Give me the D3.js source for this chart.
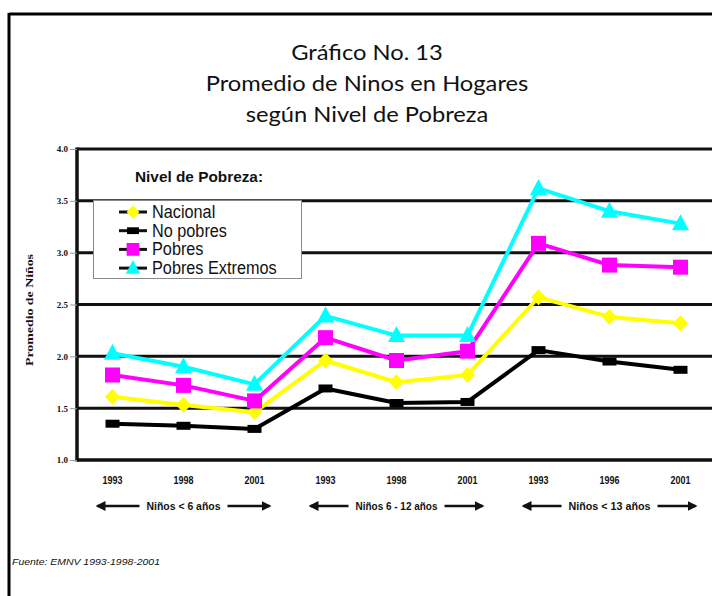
<!DOCTYPE html>
<html><head><meta charset="utf-8">
<script src="https://cdn.jsdelivr.net/npm/d3@7"></script>
<style>
html,body{margin:0;padding:0;background:#fff;overflow:hidden}
svg{display:block}
</style></head>
<body><svg id="c" width="712" height="596"></svg>
<script>
const categories = ["1993","1998","2001","1993","1998","2001","1993","1996","2001"];
const groups = ["Niños < 6 años","Niños 6 - 12 años","Niños < 13 años"];
const seriesNames = ["Nacional","No pobres","Pobres","Pobres Extremos"];
const nacional = [1.61,1.53,1.46,1.96,1.75,1.82,2.57,2.38,2.32];
const noPobres = [1.35,1.33,1.30,1.69,1.55,1.56,2.06,1.95,1.87];
const pobres = [1.82,1.72,1.57,2.18,1.96,2.05,3.09,2.88,2.86];
const extremos = [2.03,1.90,1.73,2.39,2.20,2.20,3.62,3.40,3.28];
const yTicks = [1.0,1.5,2.0,2.5,3.0,3.5,4.0];
const titleLines = ["Gráfico No. 13","Promedio de Ninos en Hogares","según Nivel de Pobreza"];

const svg = d3.select("#c");
// page frame
svg.append("line").attr("x1",9).attr("x2",9).attr("y1",13).attr("y2",596).attr("stroke","#000").attr("stroke-width",3);
svg.append("line").attr("x1",9).attr("x2",712).attr("y1",14).attr("y2",14).attr("stroke","#000").attr("stroke-width",3);

// title
svg.append("g").attr("transform","translate(367,0) scale(1.13,1)")
  .selectAll("text").data(titleLines).join("text")
  .attr("x",0).attr("y",(d,i)=>60+i*31).attr("text-anchor","middle")
  .attr("font-family","Lato, 'Open Sans', sans-serif").attr("font-size",21).attr("fill","#111")
  .text(d=>d);

const pLeft=77, pTop=149, pBottom=460, pRight=716;
const x = d3.scaleBand().domain(d3.range(categories.length)).range([pLeft,pRight]);
const y = d3.scaleLinear().domain([1,4]).range([pBottom,pTop]);
const cx = i => x(i)+x.bandwidth()/2;

// gridlines
svg.append("g").selectAll("line").data(yTicks).join("line")
  .attr("x1",pLeft).attr("x2",pRight).attr("y1",d=>y(d)).attr("y2",d=>y(d))
  .attr("stroke","#111").attr("stroke-width",d=>d===1?3.5:3);
svg.append("line").attr("x1",pLeft).attr("x2",pLeft).attr("y1",pTop-1.5).attr("y2",pBottom+1.5).attr("stroke","#111").attr("stroke-width",3.5);

// y axis tick labels
const ya = svg.append("g").attr("transform",`translate(${pLeft},0)`)
  .call(d3.axisLeft(y).tickValues(yTicks).tickFormat(d3.format(".1f")).tickSize(7).tickPadding(2));
ya.select(".domain").remove();
ya.selectAll("line").attr("stroke","#999").attr("stroke-width",1);
ya.selectAll("text").attr("font-family","'Liberation Serif', serif").attr("font-weight","bold").attr("font-size",9).attr("fill","#111");

svg.append("text").attr("transform","translate(33,310) rotate(-90)").attr("text-anchor","middle")
  .attr("font-family","'Liberation Serif', serif").attr("font-weight","bold").attr("font-size",9.5).attr("fill","#111")
  .attr("textLength",112).attr("lengthAdjust","spacingAndGlyphs")
  .text("Promedio de Niños");

// x labels
svg.append("g").selectAll("text").data(categories).join("text")
  .attr("x",(d,i)=>cx(i)).attr("y",484).attr("text-anchor","middle")
  .attr("font-family","'Liberation Sans', sans-serif").attr("font-weight","bold").attr("font-size",11).attr("fill","#111")
  .attr("textLength",20).attr("lengthAdjust","spacingAndGlyphs")
  .text(d=>d);

// group labels with arrows
const defs = svg.append("defs");
defs.append("marker").attr("id","ah").attr("viewBox","0 0 10 10").attr("refX",8).attr("refY",5)
  .attr("markerWidth",4).attr("markerHeight",4).attr("orient","auto-start-reverse")
  .append("path").attr("d","M0,0L10,5L0,10z").attr("fill","#111");
const gl = svg.append("g").selectAll("g").data(groups).join("g")
  .attr("transform",(d,i)=>`translate(${cx(i*3+1)},506)`);
gl.append("text").attr("text-anchor","middle").attr("y",4)
  .attr("font-family","'Liberation Sans', sans-serif").attr("font-weight","bold").attr("font-size",11).attr("fill","#111")
  .attr("textLength",(d,i)=>i===0?74:82).attr("lengthAdjust","spacingAndGlyphs")
  .text(d=>d);
gl.append("line").attr("x1",(d,i)=>i===0?-44:-48).attr("x2",-86).attr("y1",0).attr("y2",0)
  .attr("stroke","#111").attr("stroke-width",2.5).attr("marker-end","url(#ah)");
gl.append("line").attr("x1",(d,i)=>i===0?44:48).attr("x2",86).attr("y1",0).attr("y2",0)
  .attr("stroke","#111").attr("stroke-width",2.5).attr("marker-end","url(#ah)");

// series
const series = [
  {name:seriesNames[0], values:nacional, color:"#ffff00", shape:"diamond"},
  {name:seriesNames[1], values:noPobres, color:"#000000", shape:"dash"},
  {name:seriesNames[2], values:pobres, color:"#ff00ff", shape:"square"},
  {name:seriesNames[3], values:extremos, color:"#00ffff", shape:"triangle"}
];
function markerPath(shape){
  if(shape==="diamond") return "M0,-8L7.5,0L0,8L-7.5,0Z";
  if(shape==="square") return "M-7.5,-7.5H7.5V7.5H-7.5Z";
  if(shape==="triangle") return "M0,-9.5L8.5,6.5H-8.5Z";
  return "M-7,-4H7V4H-7Z";
}
const line = d3.line().x((d,i)=>cx(i)).y(d=>y(d));
const sg = svg.append("g").selectAll("g").data(series).join("g");
sg.append("path").attr("d",d=>line(d.values)).attr("fill","none")
  .attr("stroke",d=>d.color).attr("stroke-width",4).attr("stroke-linejoin","round");
sg.each(function(s){
  d3.select(this).selectAll("path.m").data(s.values).join("path").attr("class","m")
    .attr("transform",(d,i)=>`translate(${cx(i)},${y(d)})`)
    .attr("d",markerPath(s.shape)).attr("fill",s.color);
});

// legend
svg.append("text").attr("x",135).attr("y",182)
  .attr("font-family","'Liberation Sans', sans-serif").attr("font-weight","bold").attr("font-size",14).attr("fill","#111")
  .attr("textLength",128).attr("lengthAdjust","spacingAndGlyphs")
  .text("Nivel de Pobreza:");
svg.append("rect").attr("x",93.5).attr("y",200.5).attr("width",208).attr("height",78)
  .attr("fill","#fff").attr("stroke","#888").attr("stroke-width",1);
const lg = svg.append("g").selectAll("g").data(series).join("g")
  .attr("transform",(d,i)=>`translate(133,${212+i*18.7})`);
lg.append("line").attr("x1",-14).attr("x2",14).attr("stroke","#111").attr("stroke-width",3);
lg.append("path").attr("d",d=>markerPath(d.shape)).attr("fill",d=>d.color)
  .attr("transform","scale(0.85)");
lg.append("text").attr("transform","translate(19,6) scale(0.93,1)")
  .attr("font-family","'Liberation Sans', sans-serif").attr("font-size",17.5).attr("fill","#111")
  .text(d=>d.name);

// source
svg.append("text").attr("x",12).attr("y",565)
  .attr("font-family","'Liberation Sans', sans-serif").attr("font-style","italic").attr("font-size",9).attr("fill","#111")
  .attr("textLength",148).attr("lengthAdjust","spacingAndGlyphs")
  .text("Fuente: EMNV 1993-1998-2001");
</script></body></html>
